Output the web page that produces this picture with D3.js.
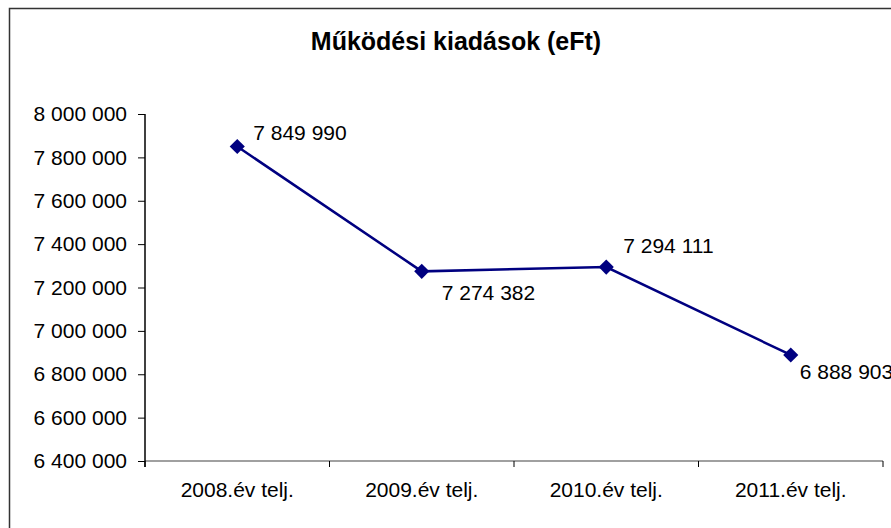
<!DOCTYPE html>
<html>
<head>
<meta charset="utf-8">
<script src="https://cdn.jsdelivr.net/npm/d3@7"></script>
<style>
  body { margin: 0; background: #fff; }
  svg text { font-family: "Liberation Sans", Arial, sans-serif; }
</style>
</head>
<body>
<div id="renderDiv"></div>
<script>
// data
const categories = ["2008.év telj.", "2009.év telj.", "2010.év telj.", "2011.év telj."];
const values = [7849990, 7274382, 7294111, 6888903];
const yTicks = [6400000, 6600000, 6800000, 7000000, 7200000, 7400000, 7600000, 7800000, 8000000];
const title = "Működési kiadások (eFt)";

// label offsets from each marker (layout only)
const labelOffsets = [[16, -14], [20, 21], [17, -21], [9, 17]];

const WIDTH = 891, HEIGHT = 528;
const plot = { left: 145, right: 883, top: 114, bottom: 461 };
const lineColor = "#000080";

// thousands separated by a space, like the hungarian excel format
function fmt(v) {
    return d3.format(",")(v).replace(/,/g, " ");
}

let svg = d3.select("#renderDiv").append("svg")
    .attr("width", WIDTH).attr("height", HEIGHT);

// chart frame, runs off the right and bottom of the picture
svg.append("rect")
    .attr("x", 9.5).attr("y", 8.5)
    .attr("width", 1000).attr("height", 1000)
    .attr("fill", "#fff")
    .attr("stroke", "#333").attr("stroke-width", 1.5);

svg.append("text")
    .attr("x", 456).attr("y", 50)
    .attr("text-anchor", "middle")
    .attr("font-size", "25px").attr("font-weight", "bold")
    .text(title);

let xScale = d3.scaleBand().domain(categories).range([plot.left, plot.right]);
let yScale = d3.scaleLinear().domain([6400000, 8000000]).range([plot.bottom, plot.top]);
let xMap = function (d, i) { return xScale(categories[i]) + xScale.bandwidth() / 2; };
let yMap = function (d) { return yScale(d); };

// x axis (gray line, ticks between categories)
let xAxis = svg.append("g")
    .attr("transform", "translate(0," + plot.bottom + ")");
xAxis.append("line")
    .attr("x1", plot.left).attr("x2", plot.right)
    .attr("stroke", "#808080").attr("stroke-width", 1.5);
let xTickPos = categories.map(c => xScale(c)).concat([plot.right]);
xAxis.selectAll(".xtick").data(xTickPos)
    .enter().append("line")
    .attr("class", "xtick")
    .attr("x1", d => d).attr("x2", d => d)
    .attr("y1", 0).attr("y2", 6)
    .attr("stroke", "#000").attr("stroke-width", 1);
xAxis.selectAll(".xlabel").data(categories)
    .enter().append("text")
    .attr("class", "xlabel")
    .attr("x", d => xScale(d) + xScale.bandwidth() / 2)
    .attr("y", 36)
    .attr("text-anchor", "middle")
    .attr("font-size", "21px")
    .text(d => d);

// y axis
let yAxis = svg.append("g")
    .attr("transform", "translate(" + plot.left + ",0)")
    .call(d3.axisLeft(yScale).tickValues(yTicks).tickSize(7).tickPadding(11).tickFormat(fmt));
yAxis.select(".domain").remove();
yAxis.append("line")
    .attr("x1", 0).attr("x2", 0)
    .attr("y1", plot.top).attr("y2", plot.bottom + 6)
    .attr("stroke", "#000").attr("stroke-width", 1.5);
yAxis.selectAll(".tick line").attr("stroke", "#000");
yAxis.selectAll(".tick text")
    .attr("font-size", "21px").attr("fill", "#000")
    .attr("font-family", "Liberation Sans, Arial, sans-serif");

// series line
let valueline = d3.line()
    .x(function (d, i) { return xMap(d, i); })
    .y(function (d) { return yMap(d); });
svg.append("path")
    .data([values])
    .attr("d", valueline)
    .attr("fill", "none")
    .attr("stroke", lineColor)
    .attr("stroke-width", 2.5);

// diamond markers
svg.selectAll(".marker").data(values)
    .enter().append("path")
    .attr("class", "marker")
    .attr("d", d3.symbol().type(d3.symbolSquare).size(115))
    .attr("transform", (d, i) => "translate(" + xMap(d, i) + "," + yMap(d) + ") rotate(45)")
    .attr("fill", lineColor);

// data labels
svg.selectAll(".dlabel").data(values)
    .enter().append("text")
    .attr("class", "dlabel")
    .attr("x", (d, i) => xMap(d, i) + labelOffsets[i][0])
    .attr("y", (d, i) => yMap(d) + labelOffsets[i][1])
    .attr("dy", "0.35em")
    .attr("font-size", "21px")
    .text(d => fmt(d));
</script>
</body>
</html>
